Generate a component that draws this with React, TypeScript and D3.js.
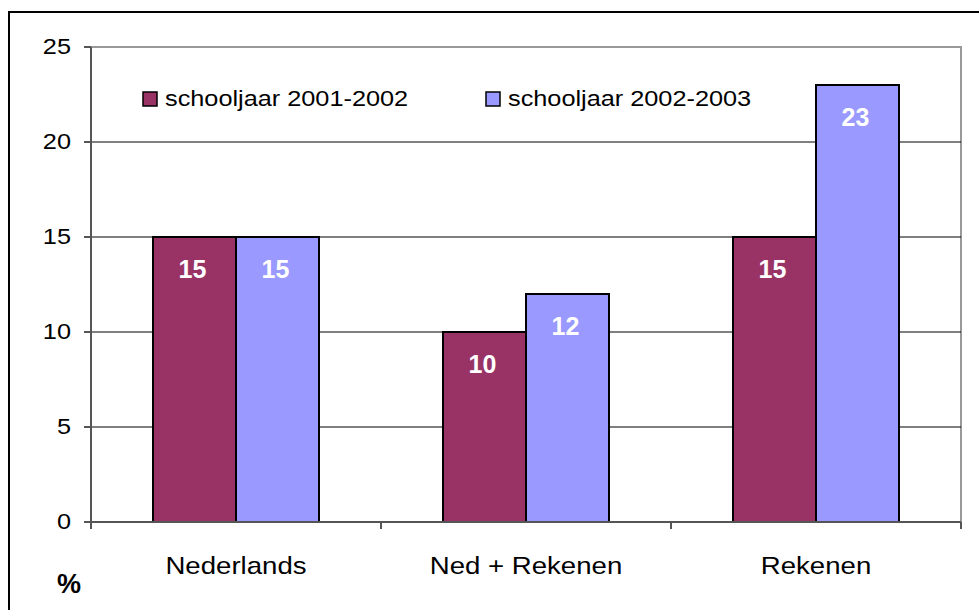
import React, { useEffect, useRef } from 'react';
import * as d3 from 'd3';

const categories = ['Nederlands', 'Ned + Rekenen', 'Rekenen'];
const seriesNames = ['schooljaar 2001-2002', 'schooljaar 2002-2003'];
const values2001 = [15, 10, 15];
const values2002 = [15, 12, 23];
const yTicks = [0, 5, 10, 15, 20, 25];
const colors = ['#993366', '#9999FF'];

export default function App() {
  const ref = useRef<SVGSVGElement | null>(null);

  useEffect(() => {
    const width = 979;
    const height = 610;
    const left = 91, right = 961, top = 47, bottom = 522;
    const font = 'Liberation Sans, Arial, sans-serif';
    const sx = 1.15; // the original text is a little stretched horizontally

    const svg = d3.select(ref.current);
    svg.selectAll('*').remove();

    svg.append('rect').attr('width', width).attr('height', height).attr('fill', '#fff');

    // outer frame (top + left visible)
    svg.append('path')
      .attr('d', `M9,${height + 5}V12H${width + 5}`)
      .attr('fill', 'none')
      .attr('stroke', '#000')
      .attr('stroke-width', 2);

    const x0 = d3.scaleBand().domain(categories).range([left, right]).paddingInner(0).paddingOuter(0);
    const groupPad = (290 - 166) / 2 / 290;
    const x1 = d3.scaleBand().domain(['0', '1']).range([x0.bandwidth() * groupPad, x0.bandwidth() * (1 - groupPad)]);
    const y = d3.scaleLinear().domain([0, 25]).range([bottom, top]);

    // plot frame
    svg.append('path')
      .attr('d', `M${left},${top}H${right}V${bottom}`)
      .attr('fill', 'none')
      .attr('stroke', '#999')
      .attr('stroke-width', 2);

    // gridlines
    svg.selectAll('.grid')
      .data(yTicks.filter(t => t > 0 && t < 25))
      .enter().append('line')
      .attr('x1', left).attr('x2', right)
      .attr('y1', d => y(d)).attr('y2', d => y(d))
      .attr('stroke', '#000').attr('stroke-width', 1);

    const series = [values2001, values2002];
    series.forEach((vals, si) => {
      const g = svg.append('g');
      const bx = (i: number) => (x0(categories[i]) as number) + (x1(String(si)) as number);
      g.selectAll('rect')
        .data(vals)
        .enter().append('rect')
        .attr('x', (d, i) => bx(i))
        .attr('y', d => y(d))
        .attr('width', x1.bandwidth())
        .attr('height', d => y(0) - y(d))
        .attr('fill', colors[si])
        .attr('stroke', '#000')
        .attr('stroke-width', 2);
      g.selectAll('text')
        .data(vals)
        .enter().append('text')
        .attr('x', (d, i) => bx(i) + x1.bandwidth() / 2 - 2)
        .attr('y', d => y(d) + 41)
        .attr('text-anchor', 'middle')
        .attr('fill', '#fff')
        .attr('font-family', font)
        .attr('font-weight', 'bold')
        .attr('font-size', 25)
        .text(d => d);
    });

    // axes
    svg.append('line')
      .attr('x1', left).attr('x2', left).attr('y1', top).attr('y2', bottom + 7)
      .attr('stroke', '#555').attr('stroke-width', 2);
    svg.append('line')
      .attr('x1', left - 7).attr('x2', right).attr('y1', bottom).attr('y2', bottom)
      .attr('stroke', '#555').attr('stroke-width', 2);

    svg.selectAll('.ytick')
      .data(yTicks)
      .enter().append('line')
      .attr('x1', left - 7).attr('x2', left)
      .attr('y1', d => y(d)).attr('y2', d => y(d))
      .attr('stroke', '#555').attr('stroke-width', 2);
    svg.selectAll('.ylab')
      .data(yTicks)
      .enter().append('text')
      .attr('transform', d => `translate(71,${y(d) + 7}) scale(${sx},1)`)
      .attr('text-anchor', 'end')
      .attr('font-family', font)
      .attr('font-size', 22)
      .text(d => d);

    const xTickPos = categories.map(c => x0(c) as number).concat([right]);
    svg.selectAll('.xtick')
      .data(xTickPos)
      .enter().append('line')
      .attr('x1', d => d).attr('x2', d => d)
      .attr('y1', bottom).attr('y2', bottom + 7)
      .attr('stroke', '#555').attr('stroke-width', 2);

    svg.selectAll('.xlab')
      .data(categories)
      .enter().append('text')
      .attr('transform', d => `translate(${(x0(d) as number) + x0.bandwidth() / 2},574) scale(${sx},1)`)
      .attr('text-anchor', 'middle')
      .attr('font-family', font)
      .attr('font-size', 24)
      .text(d => d);

    svg.append('text')
      .attr('x', 69).attr('y', 593)
      .attr('text-anchor', 'middle')
      .attr('font-family', font)
      .attr('font-weight', 'bold')
      .attr('font-size', 27)
      .text('%');

    // legend
    const legendX = [143, 486];
    seriesNames.forEach((name, i) => {
      svg.append('rect')
        .attr('x', legendX[i]).attr('y', 92)
        .attr('width', 14).attr('height', 14)
        .attr('fill', colors[i])
        .attr('stroke', '#000').attr('stroke-width', 1.5);
      svg.append('text')
        .attr('transform', `translate(${legendX[i] + 22},106) scale(${sx},1)`)
        .attr('font-family', font)
        .attr('font-size', 22)
        .text(name);
    });
  }, []);

  return (
    <div style={{ position: 'absolute', left: 0, top: 0 }}>
      <svg ref={ref} width={979} height={610} style={{ display: 'block' }} />
    </div>
  );
}
